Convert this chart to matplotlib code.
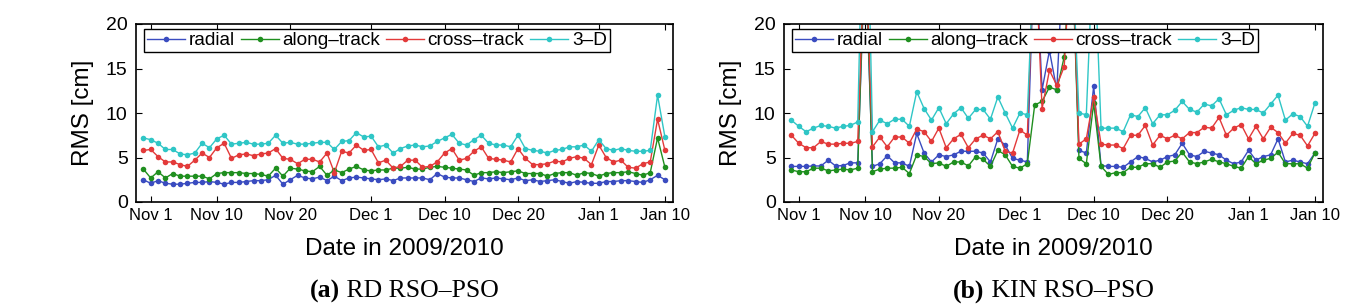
import numpy as np
import pandas as pd
import matplotlib
matplotlib.use("Agg")
import matplotlib.pyplot as plt

plt.rcParams['font.family'] = ['Liberation Sans', 'DejaVu Sans']

# daily values, 2009-10-31 .. 2010-01-10
start = "2009-10-31"
n_days = 72

# (a) RD RSO-PSO
rd_radial = [2.5, 2.1, 2.4, 2.1, 2.0, 2.0, 2.1, 2.2, 2.2, 2.3, 2.2, 2.0, 2.2, 2.2, 2.3,
             2.4, 2.4, 2.5, 3.0, 2.0, 2.5, 3.0, 2.7, 2.6, 2.8, 2.4, 2.9, 2.4, 2.7, 2.8,
             2.7, 2.6, 2.5, 2.6, 2.4, 2.7, 2.7,
             2.7, 2.7, 2.5, 3.2, 2.8, 2.7, 2.7, 2.5, 2.3, 2.7, 2.6, 2.7, 2.6, 2.5, 2.7,
             2.4, 2.5, 2.3, 2.4, 2.5, 2.3, 2.1, 2.3, 2.2, 2.1, 2.1, 2.3, 2.3, 2.4, 2.4,
             2.3, 2.2, 2.5, 3.0, 2.5]
rd_along = [3.7, 2.7, 3.4, 2.7, 3.2, 2.9, 2.9, 2.9, 2.9, 2.6, 3.2, 3.3, 3.3, 3.3, 3.2,
            3.2, 3.1, 2.9, 3.8, 2.9, 3.8, 3.7, 3.5, 3.4, 4.0, 3.0, 3.6, 3.3, 3.7, 4.0,
            3.6, 3.5, 3.6, 3.6, 3.8, 3.8, 3.9,
            3.7, 3.7, 3.9, 4.0, 3.9, 3.8, 3.7, 3.6, 3.0, 3.3, 3.3, 3.4, 3.3, 3.4, 3.5,
            3.2, 3.2, 3.2, 2.9, 3.2, 3.3, 3.3, 3.0, 3.3, 3.2, 2.9, 3.2, 3.3, 3.3, 3.4,
            3.2, 3.0, 3.3, 7.2, 3.9]
rd_cross = [5.8, 5.9, 5.1, 4.5, 4.5, 4.2, 4.0, 4.7, 5.5, 5.0, 6.1, 6.6, 4.9, 5.3, 5.4,
            5.2, 5.4, 5.5, 6.0, 4.9, 4.8, 4.3, 4.8, 4.8, 4.5, 5.5, 3.3, 5.7, 5.5, 6.4,
            5.8, 5.9, 4.4, 4.7, 3.8, 4.0, 4.7,
            4.7, 3.9, 4.0, 4.5, 5.5, 6.0, 4.7, 4.9, 5.7, 6.2, 4.9, 4.8, 4.7, 4.5, 6.0,
            4.9, 4.2, 4.2, 4.3, 4.6, 4.5, 4.9, 5.1, 4.9, 4.2, 6.4, 5.0, 4.5, 4.7, 3.9,
            3.8, 4.3, 4.5, 9.3, 5.8]
rd_3d = [7.2, 7.0, 6.6, 5.9, 5.9, 5.4, 5.3, 5.5, 6.6, 6.1, 7.1, 7.5, 6.5, 6.6, 6.7,
         6.5, 6.5, 6.6, 7.5, 6.6, 6.7, 6.5, 6.5, 6.6, 6.7, 6.7, 5.9, 6.8, 6.9, 7.8,
         7.3, 7.4, 6.2, 6.4, 5.5, 6.0, 6.3,
         6.4, 6.2, 6.3, 6.8, 7.2, 7.6, 6.6, 6.4, 7.0, 7.5, 6.6, 6.4, 6.4, 6.2, 7.5,
         6.0, 5.8, 5.7, 5.5, 5.8, 5.9, 6.2, 6.2, 6.4, 5.7, 7.0, 6.0, 5.8, 6.0, 5.8,
         5.7, 5.7, 5.8, 12.0, 7.3]

# (b) KIN RSO-PSO (values above 20 run off the top of the axes)
kin_radial = [4.0, 4.0, 4.0, 4.05, 4.05, 4.7, 4.05, 4.1, 4.4, 4.4, 28, 4.0, 4.3, 5.2, 4.4,
              4.4, 4.0, 7.7, 5.5, 4.5, 5.3, 5.1, 5.3, 5.7, 5.7, 5.7, 5.5, 4.5, 7.1, 6.4,
              4.9, 4.7, 4.5,
              30, 12.6, 17, 12.6, 30, 30,
              5.8, 5.5, 13.0, 4.1, 4.0, 4.0, 3.9, 4.5, 5.1, 4.9, 4.5, 4.7, 5.1, 5.3, 6.6,
              5.3, 5.1, 5.7, 5.5, 5.3, 4.7, 4.3, 4.5, 5.8, 4.7, 5.1, 5.3, 7.1, 4.5, 4.7,
              4.5, 4.3, 5.5]
kin_along = [3.6, 3.4, 3.4, 3.8, 3.8, 3.5, 3.6, 3.7, 3.6, 3.8, 30, 3.4, 3.7, 3.8, 3.8,
             3.9, 3.2, 5.3, 5.1, 4.3, 4.4, 4.0, 4.5, 4.5, 4.05, 5.1, 4.8, 4.0, 5.8, 5.3,
             4.0, 3.8, 4.3,
             10.9, 11.3, 12.9, 12.6, 16.3, 30,
             4.9, 4.3, 11.1, 4.0, 3.1, 3.3, 3.3, 3.9, 3.9, 4.3, 4.3, 3.9, 4.5, 4.6, 5.6,
             4.5, 4.3, 4.5, 4.8, 4.5, 4.3, 4.0, 3.8, 5.1, 4.3, 4.7, 4.9, 5.6, 4.3, 4.3,
             4.3, 3.8, 5.5]
kin_cross = [7.5, 6.6, 6.1, 6.1, 6.8, 6.5, 6.5, 6.6, 6.6, 6.8, 30, 6.2, 7.3, 6.2, 7.3,
             7.3, 6.6, 8.2, 7.9, 6.8, 8.3, 6.1, 7.1, 7.6, 6.1, 7.1, 7.5, 7.1, 7.9, 5.7,
             5.5, 8.1, 7.5,
             30, 10.5, 14.8, 13.1, 15.2, 30,
             6.5, 7.1, 11.8, 6.5, 6.4, 6.4, 6.0, 7.5, 7.5, 8.6, 6.4, 7.5, 7.1, 7.5, 7.1,
             7.8, 7.8, 8.4, 8.3, 9.5, 7.5, 8.3, 8.7, 7.1, 8.5, 7.1, 8.4, 7.8, 6.6, 7.7,
             7.5, 6.3, 7.7]
kin_3d = [9.2, 8.5, 7.9, 8.3, 8.6, 8.5, 8.3, 8.5, 8.6, 9.0, 45, 7.9, 9.2, 8.8, 9.3,
          9.3, 8.5, 12.4, 10.5, 9.2, 10.6, 8.8, 9.9, 10.6, 9.4, 10.4, 10.4, 9.3, 11.8, 10.0,
          8.3, 10.0, 9.8, 30, 30,
          30, 30, 30, 30,
          10.0, 9.8, 30, 8.3, 8.3, 8.3, 7.9, 9.8, 9.6, 10.6, 8.8, 9.8, 9.8, 10.3, 11.3,
          10.4, 10.1, 11.0, 10.8, 11.6, 9.8, 10.3, 10.6, 10.4, 10.4, 10.0, 11.0, 12.0, 9.2, 9.9,
          9.6, 8.5, 11.1]

labels = ["radial", "along\u2013track", "cross\u2013track", "3\u2013D"]
colors = ["#3a4cc0", "#1f8f1f", "#e33a3a", "#2fc6c6"]

tick_dates = ["2009-11-01", "2009-11-10", "2009-11-20", "2009-12-01",
              "2009-12-11", "2009-12-21", "2010-01-01", "2010-01-10"]
tick_labels = ["Nov 1", "Nov 10", "Nov 20", "Dec 1", "Dec 10", "Dec 20", "Jan 1", "Jan 10"]
captions = [("(a)", " RD RSO\u2013PSO"), ("(b)", " KIN RSO\u2013PSO")]

dates = pd.date_range(start, periods=n_days, freq="D")
t0 = pd.Timestamp(start)

fig = plt.figure(figsize=(13.68, 3.08), dpi=100)
ax1 = fig.add_axes([136 / 1368, 106 / 308, 537 / 1368, 178 / 308])
ax2 = fig.add_axes([784 / 1368, 106 / 308, 539 / 1368, 178 / 308])

panels = [(ax1, [rd_radial, rd_along, rd_cross, rd_3d]),
          (ax2, [kin_radial, kin_along, kin_cross, kin_3d])]

for ax, series in panels:
    for vals, lab, c in zip(series, labels, colors):
        ax.plot(dates, vals, "-", color=c, lw=1.0, marker="o", ms=4.0,
                mew=0, label=lab)
    ax.set_ylim(0, 20)
    ax.set_yticks([0, 5, 10, 15, 20])
    ax.set_xlim(t0 - pd.Timedelta(days=1), t0 + pd.Timedelta(days=72.1))
    ax.set_xticks(pd.to_datetime(tick_dates))
    ax.set_xticklabels(tick_labels)
    ax.tick_params(direction="in", top=True, right=True, length=4.5, width=0.8)
    ax.tick_params(axis="x", labelsize=12, pad=4)
    ax.tick_params(axis="y", labelsize=14, pad=6)
    for s in ax.spines.values():
        s.set_linewidth(1.2)
    ax.set_ylabel("RMS [cm]", fontsize=17.5)
    ax.yaxis.label.set_va("center")
    ax.yaxis.set_label_coords(-0.099, 0.5)
    ax.set_xlabel("Date in 2009/2010", fontsize=17.5)
    ax.xaxis.set_label_coords(0.5, -0.265)
    ax.xaxis.label.set_va("center")
    w_px = ax.get_position().width * 1368
    leg = ax.legend(loc="upper left", bbox_to_anchor=(8 / w_px, 1 - 5 / 178),
                    ncol=4, fontsize=13.7, frameon=True,
                    fancybox=False, edgecolor="black", framealpha=1,
                    borderpad=0.15, handlelength=2.0, handletextpad=0.2,
                    columnspacing=0.3, borderaxespad=0)
    leg.get_frame().set_linewidth(1.0)

# captions below each panel: bold letter, then plain serif text
fig.canvas.draw()
renderer = fig.canvas.get_renderer()
W = fig.bbox.width
for ax, (bold, rest) in zip([ax1, ax2], captions):
    cx = (ax.get_position().x0 + ax.get_position().x1) / 2 * W
    t1 = fig.text(0, 0.055, bold, fontsize=18.5, weight="bold",
                  family="Liberation Serif", va="center")
    t2 = fig.text(0, 0.055, rest, fontsize=18.5,
                  family="Liberation Serif", va="center")
    w1 = t1.get_window_extent(renderer).width
    w2 = t2.get_window_extent(renderer).width
    x0 = cx - (w1 + w2) / 2
    t1.set_x(x0 / W)
    t2.set_x((x0 + w1) / W)

fig.savefig("out.png", dpi=100)
